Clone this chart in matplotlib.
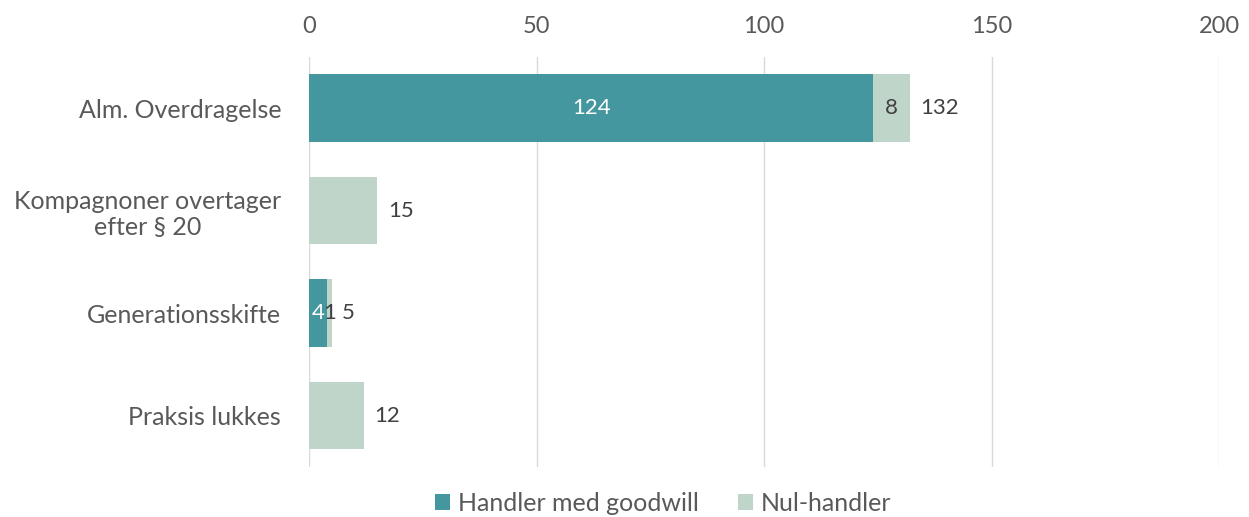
import matplotlib.pyplot as plt
import numpy as np

# data
categories = ['Alm. Overdragelse', 'Kompagnoner overtager\nefter § 20', 'Generationsskifte', 'Praksis lukkes']
goodwill = [124, 0, 4, 0]
nul = [8, 15, 1, 12]
totals = [132, 15, 5, 12]

teal = '#45979F'
light = '#BFD5CA'
txt = '#595959'

plt.rcParams['font.family'] = ['Lato', 'DejaVu Sans']

fig = plt.figure(figsize=(12.49, 5.17), dpi=100)
ax = fig.add_axes([0.2474, 0.097, 0.7286, 0.793])

y = np.arange(len(categories))
h = 0.66
ax.barh(y, goodwill, height=h, color=teal, label='Handler med goodwill', zorder=3)
ax.barh(y, nul, left=goodwill, height=h, color=light, label='Nul-handler', zorder=3)

# labels
for i in range(len(categories)):
    if goodwill[i] > 0 and nul[i] > 0:
        ax.text(goodwill[i] / 2, y[i], str(goodwill[i]), ha='center', va='center',
                color='white', fontsize=16, zorder=4)
        ax.text(goodwill[i] + nul[i] / 2, y[i], str(nul[i]), ha='center', va='center',
                color='#404040', fontsize=16, zorder=4)
    ax.text(totals[i] + 2.3, y[i], str(totals[i]), ha='left', va='center',
            color='#404040', fontsize=16, zorder=4)

ax.set_xlim(0, 200)
ax.set_ylim(len(categories) - 0.5, -0.5)
ax.set_xticks([0, 50, 100, 150, 200])
ax.xaxis.tick_top()
ax.tick_params(axis='x', length=0, labelsize=17, labelcolor=txt, pad=14)
ax.set_yticks(y)
ax.set_yticklabels(categories, fontsize=18, color=txt)
ax.tick_params(axis='y', length=0, pad=20)
for lbl in ax.get_yticklabels():
    lbl.set_multialignment('center')

ax.grid(axis='x', color='#D9D9D9', linewidth=1, zorder=0)
for s in ax.spines.values():
    s.set_visible(False)

fig.legend(loc='lower center', ncol=2, frameon=False, fontsize=18,
           bbox_to_anchor=(0.531, -0.04), handlelength=0.6, handleheight=0.6,
           columnspacing=1.6, handletextpad=0.3, labelcolor=txt)

fig.savefig('out.png', dpi=100)
